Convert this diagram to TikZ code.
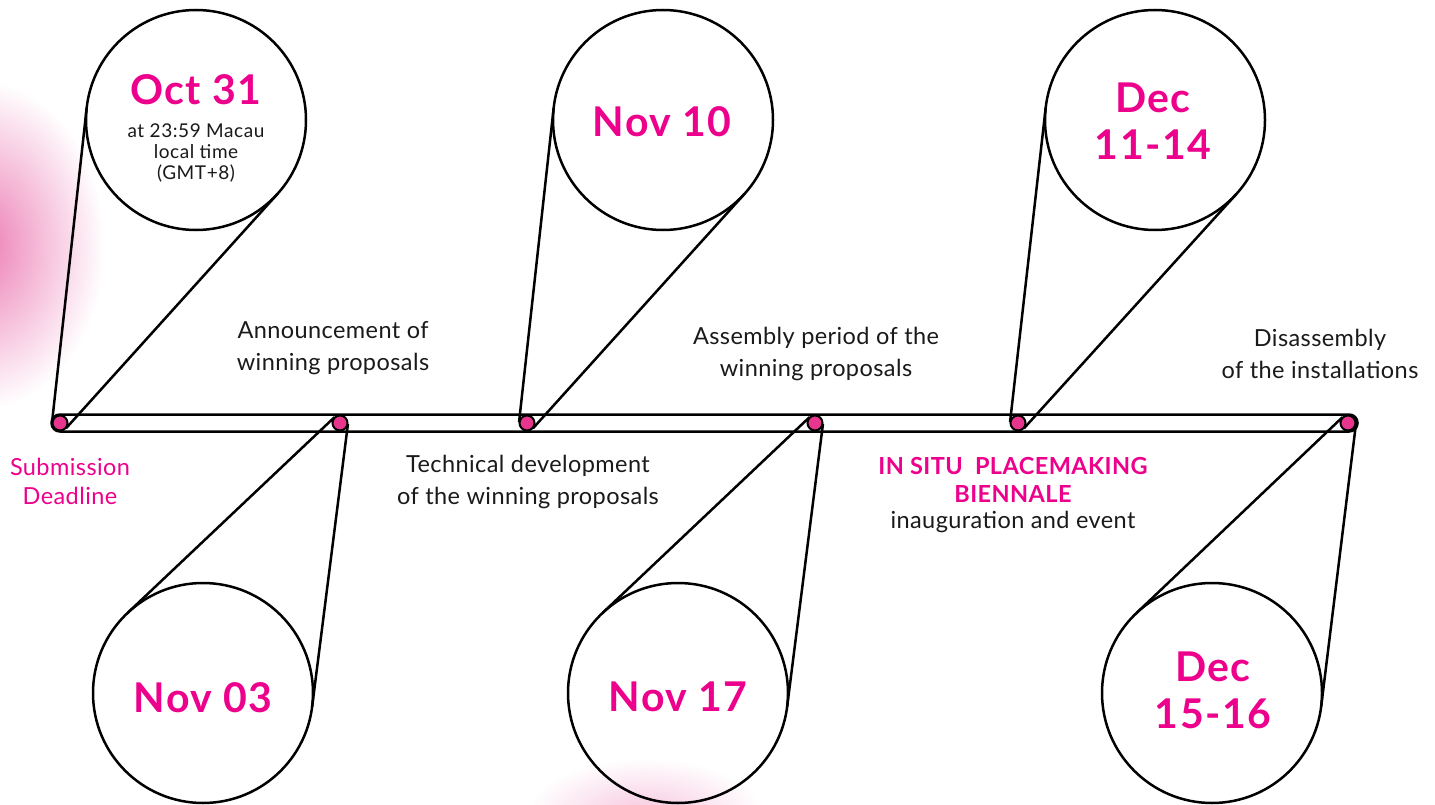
\documentclass[tikz,border=0pt]{standalone}
\usepackage{fontspec}
\setmainfont{Lato}
\usetikzlibrary{calc}
\definecolor{mag}{HTML}{EC008C}
\definecolor{dotpink}{HTML}{E8368F}
\definecolor{glowpink}{HTML}{EC7DB5}
\definecolor{ink}{HTML}{1A1A1A}
\pgfdeclarelayer{glowl}
\pgfdeclarelayer{barl}
\pgfdeclarelayer{linel}
\pgfsetlayers{glowl,barl,linel,main}
\begin{document}
\begin{tikzpicture}[x=1pt,y=-1pt,
  bigc/.style={circle,draw=black,line width=2.5pt,minimum size=220pt,inner sep=0pt},
  dotc/.style={circle,draw=black,fill=dotpink,line width=2pt,minimum size=15pt,inner sep=0pt},
  conn/.style={line width=2.5pt,draw=black},
  datetxt/.style={text=mag,font=\fontsize{41}{47}\selectfont\bfseries\addfontfeatures{LetterSpace=3.5},align=center},
  smalltxt/.style={text=ink,font=\fontsize{19}{21}\selectfont\addfontfeatures{LetterSpace=3},align=center},
  lbl/.style={text=ink,font=\fontsize{23.5}{32}\selectfont\addfontfeatures{LetterSpace=1.8},align=center},
  pinklbl/.style={text=mag,font=\fontsize{23.5}{29}\selectfont\addfontfeatures{LetterSpace=1.8},align=center},
  boldlbl/.style={text=mag,font=\fontsize{23.5}{28}\selectfont\bfseries\addfontfeatures{LetterSpace=1.8},align=center}]
\useasboundingbox (0,0) rectangle (1435,805);
\begin{pgfonlayer}{glowl}
  \fill[white] (0,0) rectangle (1435,805);
  \shade[inner color=glowpink,outer color=white] (-20,245) ellipse (125 and 165);
  \shade[inner color=glowpink!45!white,outer color=white] (645,818) ellipse (120 and 60);
\end{pgfonlayer}
% big circles
\node[bigc] (c1) at (196,120) {};
\node[bigc] (c2) at (203,693) {};
\node[bigc] (c3) at (663,120) {};
\node[bigc] (c4) at (678,693) {};
\node[bigc] (c5) at (1155,120) {};
\node[bigc] (c6) at (1212,693) {};
% dots
\node[dotc] (d1) at (60,423) {};
\node[dotc] (d2) at (340,423) {};
\node[dotc] (d3) at (527,423) {};
\node[dotc] (d4) at (815,423) {};
\node[dotc] (d5) at (1018,423) {};
\node[dotc] (d6) at (1348,423) {};
% bar
\begin{pgfonlayer}{barl}
  \draw[conn,rounded corners=8.4pt] (51.5,414.5) rectangle (1357.5,431.5);
\end{pgfonlayer}
% tangent connectors
\begin{pgfonlayer}{linel}
\foreach \i/\px/\cx/\cy in {1/60/196/120,2/340/203/693,3/527/663/120,4/815/678/693,5/1018/1155/120,6/1348/1212/693}{
  \pgfmathsetmacro\tdx{\cx-\px}
  \pgfmathsetmacro\tdy{\cy-423}
  \pgfmathsetmacro\tD{veclen(\tdx,\tdy)}
  \pgfmathsetmacro\tbase{atan2(\tdy,\tdx)}
  \pgfmathsetmacro\tphi{acos((8-110)/\tD)}
  \pgfmathsetmacro\ta{\tbase+\tphi}
  \pgfmathsetmacro\tb{\tbase-\tphi}
  \coordinate (s\i a) at ($(d\i)+(\ta:8)$);
  \coordinate (e\i a) at ($(c\i)+(\ta:110)$);
  \coordinate (s\i b) at ($(d\i)+(\tb:8)$);
  \coordinate (e\i b) at ($(c\i)+(\tb:110)$);
  \draw[conn] (s\i a) -- (e\i a);
  \draw[conn] (s\i b) -- (e\i b);
}
\end{pgfonlayer}
% dates
\node[datetxt] (t1) at (196,90) {Oct 31};
\node[smalltxt] (t1b) at (196,153) {at 23:59 Macau\\local time\\(GMT+8)};
\node[datetxt] (t2) at (203,698) {Nov 03};
\node[datetxt] (t3) at (662,122) {Nov 10};
\node[datetxt] (t4) at (678,697) {Nov 17};
\node[datetxt] (t5) at (1153,121) {Dec\\11-14};
\node[datetxt] (t6) at (1213,690) {Dec\\15-16};
% labels
\node[pinklbl] (l1) at (70,481) {Submission\\Deadline};
\node[lbl] (l2) at (333,348) {Announcement of\\winning proposals};
\node[lbl] (l3) at (528,482) {Technical development\\of the winning proposals};
\node[lbl] (l4) at (816,354) {Assembly period of the\\winning proposals};
\node[boldlbl] (l5) at (1013,480) {IN SITU\ \ PLACEMAKING\\BIENNALE};
\node[lbl] (l5b) at (1013,522) {inauguration and event};
\node[lbl] (l6) at (1320,354) {Disassembly\\of the installations};
\end{tikzpicture}
\end{document}
